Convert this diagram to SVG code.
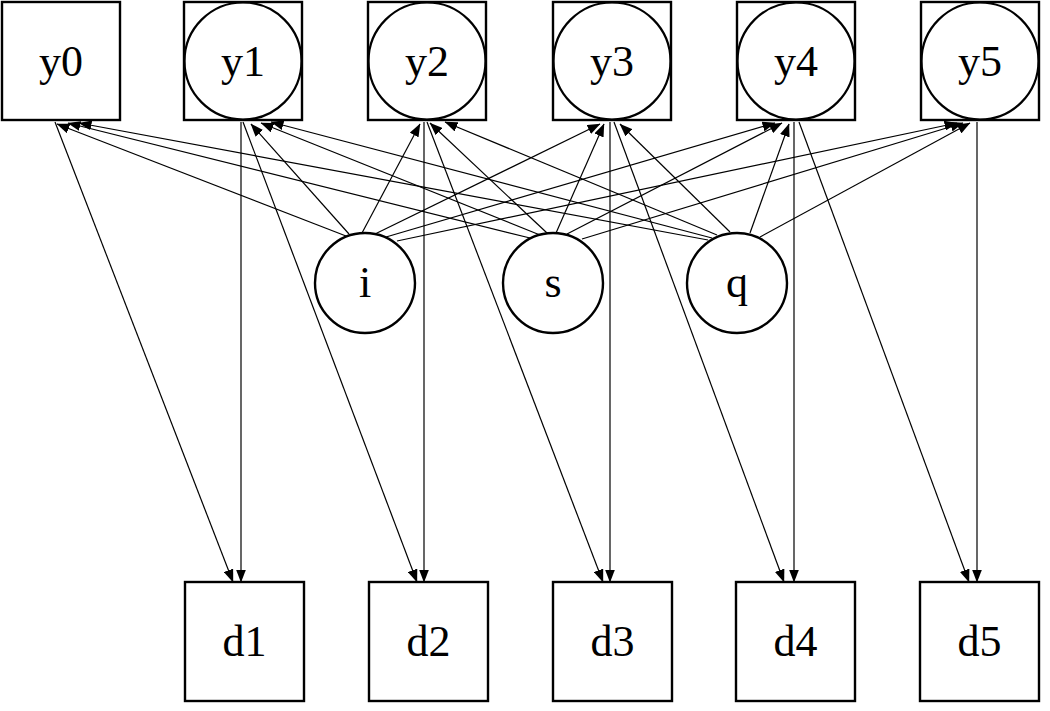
<svg xmlns="http://www.w3.org/2000/svg" width="1050" height="711" viewBox="0 0 1050 711">
<style>
.box{fill:#fff;stroke:#000;stroke-width:2.4}
.ring{fill:none;stroke:#000;stroke-width:2.2}
.lat{fill:#fff;stroke:#000;stroke-width:2.4}
.lbl{font-family:"Liberation Serif","Times New Roman",serif;font-size:44px;fill:#000;text-anchor:middle}
.e{stroke:#000;stroke-width:1.2;fill:none;marker-end:url(#ah)}
</style>
<defs>
<marker id="ah" markerUnits="userSpaceOnUse" markerWidth="13" markerHeight="10" viewBox="0 0 13 10" refX="12.5" refY="5" orient="auto">
<path d="M0,0 L13,5 L0,10 z" fill="#000"/>
</marker>
</defs>
<rect width="1050" height="711" fill="#fff"/>
<g id="connectors">
<line class="e" x1="346" y1="236" x2="57" y2="124"/>
<line class="e" x1="530" y1="238" x2="68" y2="123"/>
<line class="e" x1="708" y1="240" x2="79" y2="123"/>
<line class="e" x1="349" y1="234" x2="251" y2="124"/>
<line class="e" x1="540" y1="235" x2="261" y2="123"/>
<line class="e" x1="712" y1="238" x2="271" y2="122"/>
<line class="e" x1="362" y1="233" x2="420" y2="124"/>
<line class="e" x1="547" y1="233" x2="430" y2="123"/>
<line class="e" x1="717" y1="235" x2="445" y2="122"/>
<line class="e" x1="375" y1="234" x2="600" y2="124"/>
<line class="e" x1="556" y1="233" x2="604" y2="124"/>
<line class="e" x1="730" y1="232" x2="620" y2="124"/>
<line class="e" x1="386" y1="237" x2="775" y2="123"/>
<line class="e" x1="567" y1="234" x2="782" y2="123"/>
<line class="e" x1="750" y1="233" x2="789" y2="124"/>
<line class="e" x1="397" y1="241" x2="957" y2="123"/>
<line class="e" x1="582" y1="239" x2="963" y2="123"/>
<line class="e" x1="760" y1="237" x2="970" y2="123"/>
<line class="e" x1="241" y1="122" x2="241" y2="582"/>
<line class="e" x1="424" y1="122" x2="424" y2="582"/>
<line class="e" x1="610" y1="122" x2="610" y2="582"/>
<line class="e" x1="794" y1="122" x2="794" y2="582"/>
<line class="e" x1="977" y1="122" x2="977" y2="582"/>
<line class="e" x1="55" y1="122" x2="233" y2="582"/>
<line class="e" x1="243" y1="122" x2="417" y2="582"/>
<line class="e" x1="427" y1="122" x2="603" y2="582"/>
<line class="e" x1="614" y1="122" x2="784" y2="582"/>
<line class="e" x1="799" y1="122" x2="969" y2="582"/>
</g>
<g id="y0"><rect class="box" x="2" y="2" width="118" height="118"/><text class="lbl" x="61" y="76">y0</text></g>
<g id="y1"><rect class="box" x="184" y="2" width="118" height="118"/><circle class="ring" cx="243" cy="61" r="58.5"/><text class="lbl" x="243" y="76">y1</text></g>
<g id="y2"><rect class="box" x="368" y="2" width="118" height="118"/><circle class="ring" cx="427" cy="61" r="58.5"/><text class="lbl" x="427" y="76">y2</text></g>
<g id="y3"><rect class="box" x="553" y="2" width="118" height="118"/><circle class="ring" cx="612" cy="61" r="58.5"/><text class="lbl" x="612" y="76">y3</text></g>
<g id="y4"><rect class="box" x="737" y="2" width="118" height="118"/><circle class="ring" cx="796" cy="61" r="58.5"/><text class="lbl" x="796" y="76">y4</text></g>
<g id="y5"><rect class="box" x="921" y="2" width="118" height="118"/><circle class="ring" cx="980" cy="61" r="58.5"/><text class="lbl" x="980" y="76">y5</text></g>
<g id="i"><circle class="lat" cx="365" cy="283" r="50"/><text class="lbl" x="365" y="297">i</text></g>
<g id="s"><circle class="lat" cx="553" cy="283" r="50"/><text class="lbl" x="553" y="297">s</text></g>
<g id="q"><circle class="lat" cx="737" cy="283" r="50"/><text class="lbl" x="737" y="297">q</text></g>
<g id="d1"><rect class="box" x="185" y="582" width="119" height="119"/><text class="lbl" x="244.5" y="656">d1</text></g>
<g id="d2"><rect class="box" x="369" y="582" width="119" height="119"/><text class="lbl" x="428.5" y="656">d2</text></g>
<g id="d3"><rect class="box" x="553" y="582" width="119" height="119"/><text class="lbl" x="612.5" y="656">d3</text></g>
<g id="d4"><rect class="box" x="736" y="582" width="119" height="119"/><text class="lbl" x="795.5" y="656">d4</text></g>
<g id="d5"><rect class="box" x="920" y="582" width="119" height="119"/><text class="lbl" x="979.5" y="656">d5</text></g>
</svg>
